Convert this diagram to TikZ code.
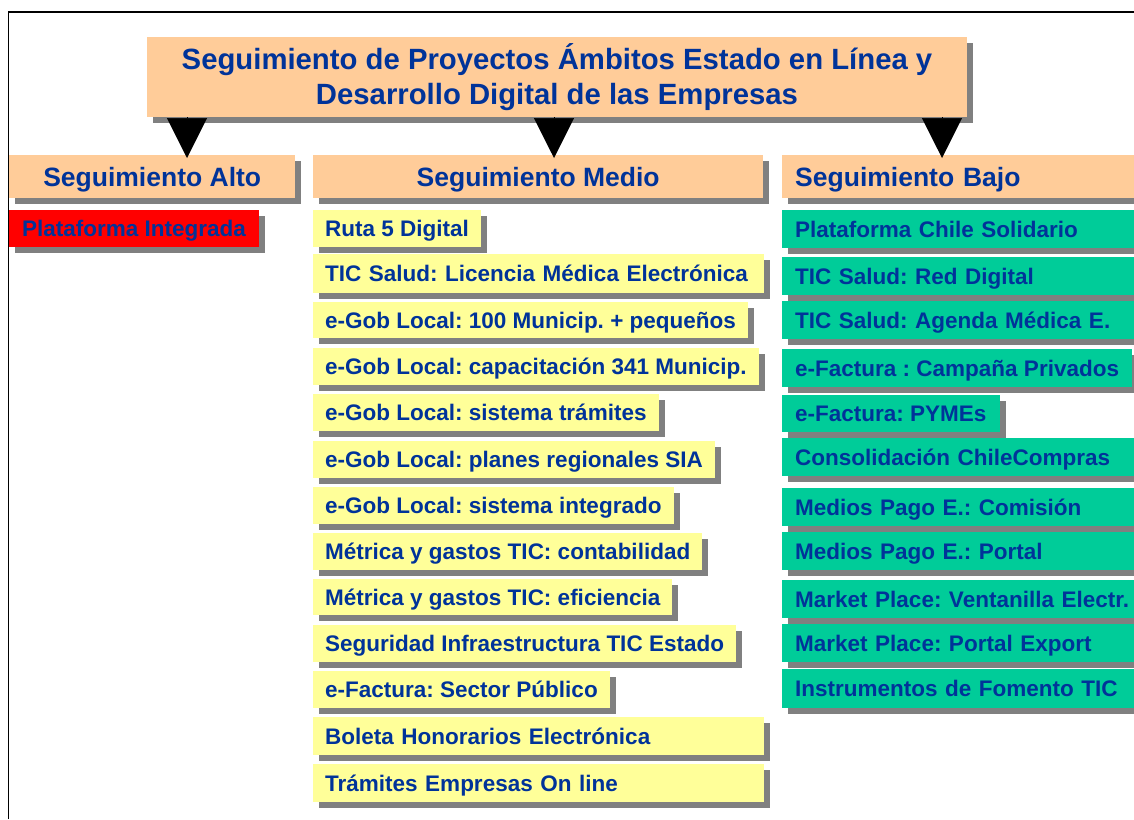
\documentclass[tikz,border=0pt]{standalone}
\usepackage{fontspec}
\setmainfont{Liberation Sans}
\usetikzlibrary{shadows,arrows.meta}
\definecolor{peach}{HTML}{FFCC99}
\definecolor{lyellow}{HTML}{FFFF99}
\definecolor{tgreen}{HTML}{00CC99}
\definecolor{tblue}{HTML}{003399}
\definecolor{shgray}{HTML}{808080}
\frenchspacing
\begin{document}
\frenchspacing
\begin{tikzpicture}[x=1pt,y=-1pt,
  shadowed/.style={drop shadow={shadow xshift=6pt,shadow yshift=-6pt,fill=shgray,opacity=1}},
  box/.style={shadowed, anchor=north west, inner ysep=0pt, text=tblue,
    font=\frenchspacing\bfseries\fontsize{22.5}{27}\selectfont, align=left,
    text height=16.5pt, text depth=0pt},
  yitem/.style={box, fill=lyellow, inner xsep=12pt, minimum height=37pt},
  gitem/.style={box, fill=tgreen, inner xsep=13pt, minimum height=38pt},
  ritem/.style={box, fill=red, inner xsep=13pt, minimum height=37pt},
  header/.style={box, fill=peach, minimum height=43pt, align=center,
    text height=19.3pt, text depth=0pt,
    font=\frenchspacing\bfseries\fontsize{26.5}{31}\selectfont},
  titlebox/.style={shadowed, fill=peach, text=tblue, minimum width=820pt, minimum height=80pt,
    align=center, inner sep=0pt, font=\frenchspacing\bfseries\fontsize{29.3}{35}\selectfont},
  bigarrow/.style={line width=0.5pt, -{Triangle[length=40pt,width=40pt]}},
  frame/.style={line width=1.5pt}
]
\clip (0,0) rectangle (1134,819);
\fill[white] (0,0) rectangle (1134,819);
\draw[frame] (8.3,819) -- (8.3,11.8) -- (1134,11.8);

% title
\node[titlebox] (title) at (557,77) {Seguimiento de Proyectos Ámbitos Estado en Línea y\\Desarrollo Digital de las Empresas};

% headers
\node[header, minimum width=286pt] (alto) at (9,155) {Seguimiento Alto};
\node[header, minimum width=450pt] (medio) at (313,155) {Seguimiento Medio};
\node[header, inner xsep=13pt, text width=374pt, align=left] (bajo) at (782,155) {Seguimiento Bajo};

% arrows
\coordinate (tA) at (187,158);
\coordinate (tM) at (554,158);
\coordinate (tB) at (942,158);
\draw[bigarrow] (title.south -| tA) -- (tA);
\draw[bigarrow] (title.south -| tM) -- (tM);
\draw[bigarrow] (title.south -| tB) -- (tB);

% alto
\node[ritem] (a1) at (9,210) {Plataforma Integrada};

% medio
\node[yitem] (m1) at (313,210) {Ruta 5 Digital};
\node[yitem, text width=427pt, minimum height=39pt] (m2) at (313,254) {TIC Salud: Licencia Médica Electrónica};
\node[yitem, minimum height=36pt] (m3) at (313,302) {e-Gob Local: 100 Municip. + pequeños};
\node[yitem] (m4) at (313,348) {e-Gob Local: capacitación 341 Municip.};
\node[yitem] (m5) at (313,394) {e-Gob Local: sistema trámites};
\node[yitem] (m6) at (313,441) {e-Gob Local: planes regionales SIA};
\node[yitem] (m7) at (313,487) {e-Gob Local: sistema integrado};
\node[yitem] (m8) at (313,533) {Métrica y gastos TIC: contabilidad};
\node[yitem, minimum height=36pt] (m9) at (313,579) {Métrica y gastos TIC: eficiencia};
\node[yitem] (m10) at (313,625) {Seguridad Infraestructura TIC Estado};
\node[yitem] (m11) at (313,671) {e-Factura: Sector Público};
\node[yitem, text width=427pt, minimum height=38pt] (m12) at (313,717) {Boleta Honorarios Electrónica};
\node[yitem, text width=427pt, minimum height=38pt] (m13) at (313,764) {Trámites Empresas On line};

% bajo
\node[gitem, text width=400pt] (b1) at (782,210) {Plataforma Chile Solidario};
\node[gitem, text width=400pt] (b2) at (782,257) {TIC Salud: Red Digital};
\node[gitem, text width=400pt] (b3) at (782,301) {TIC Salud: Agenda Médica E.};
\node[gitem] (b4) at (782,349) {e-Factura : Campaña Privados};
\node[gitem, minimum height=37pt] (b5) at (782,395) {e-Factura: PYMEs};
\node[gitem, text width=400pt] (b6) at (782,438) {Consolidación ChileCompras};
\node[gitem, text width=400pt] (b7) at (782,488) {Medios Pago E.: Comisión};
\node[gitem, text width=400pt] (b8) at (782,532) {Medios Pago E.: Portal};
\node[gitem, text width=400pt] (b9) at (782,580) {Market Place: Ventanilla Electr.};
\node[gitem, text width=400pt] (b10) at (782,624) {Market Place: Portal Export};
\node[gitem, text width=400pt, minimum height=39pt] (b11) at (782,669) {Instrumentos de Fomento TIC};
\end{tikzpicture}
\end{document}
